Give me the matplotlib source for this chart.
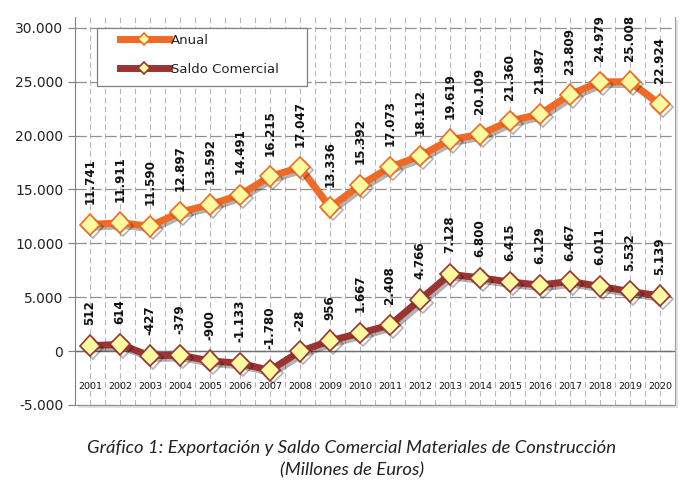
import numpy as np
import matplotlib
matplotlib.use("Agg")
import matplotlib.pyplot as plt
import matplotlib.patheffects as pe
from matplotlib.patches import Rectangle
from matplotlib.ticker import FuncFormatter

years = [str(y) for y in range(2001, 2021)]
anual = [11741, 11911, 11590, 12897, 13592, 14491, 16215, 17047, 13336, 15392,
         17073, 18112, 19619, 20109, 21360, 21987, 23809, 24979, 25008, 22924]
saldo = [512, 614, -427, -379, -900, -1133, -1780, -28, 956, 1667,
         2408, 4766, 7128, 6800, 6415, 6129, 6467, 6011, 5532, 5139]

c_anual = "#F06A25"
c_saldo = "#9B3333"
c_fill = "#FFFBA0"


def fmt(v):
    s = f"{abs(v):,}".replace(",", ".")
    return ("-" if v < 0 else "") + s


fig = plt.figure(figsize=(6.9, 4.87), dpi=100)
ax = fig.add_axes([0.1087, 0.1684, 0.8693, 0.7966])

# soft shadow of the plot area
fig.patches.append(Rectangle((0.1087 + 0.004, 0.1684 - 0.007), 0.8693, 0.7966,
                             transform=fig.transFigure, facecolor="#e2e2e2",
                             edgecolor="none", zorder=-1))
ax.set_facecolor("white")

x = np.arange(1, len(years) + 1)
shadow = [pe.SimpleLineShadow(offset=(2, -2), shadow_color="black", alpha=0.3), pe.Normal()]

ax.plot(x, anual, color=c_anual, lw=5, marker="D", ms=10.5, mfc=c_fill,
        mec=c_anual, mew=1.2, label="Anual", zorder=4, path_effects=shadow)
ax.plot(x, saldo, color=c_saldo, lw=5, marker="D", ms=10.5, mfc=c_fill,
        mec=c_saldo, mew=1.2, label="Saldo Comercial", zorder=4, path_effects=shadow)

for xi, v in zip(x, anual):
    ax.annotate(fmt(v), (xi, v), xytext=(0, 15), textcoords="offset points",
                rotation=90, ha="center", va="bottom", fontsize=8.6,
                fontweight="bold", family="DejaVu Sans", color="#111111")
for xi, v in zip(x, saldo):
    ax.annotate(fmt(v), (xi, v), xytext=(0, 15), textcoords="offset points",
                rotation=90, ha="center", va="bottom", fontsize=8.6,
                fontweight="bold", family="DejaVu Sans", color="#111111")

for xi, yr in zip(x, years):
    ax.text(xi, -3300, yr, ha="center", va="center", fontsize=6.8, color="#111111")

ax.set_xlim(0.5, len(years) + 0.5)
ax.set_ylim(-5000, 31000)
ax.set_yticks(range(-5000, 30001, 5000))
ax.yaxis.set_major_formatter(FuncFormatter(lambda v, p: fmt(int(v))))
ax.tick_params(axis="y", labelsize=10, length=5, color="#808080", labelcolor="#222222")
ax.set_xticks(x)
ax.set_xticks(x + 0.5, minor=True)
ax.tick_params(axis="x", which="both", length=0, labelbottom=False)

ax.grid(axis="y", color="#909090", lw=0.9, ls=(0, (9, 3)))
ax.grid(axis="x", which="both", color="#b8b8b8", lw=0.8, ls=(0, (5, 3)))
ax.axhline(0, color="#707070", lw=1, zorder=1)
ax.set_axisbelow(True)

ax.spines["top"].set_visible(False)
ax.spines["left"].set_color("#808080")
ax.spines["right"].set_color("#a0a0a0")
ax.spines["bottom"].set_color("#909090")

# legend box drawn by hand for the wide side padding
ax.add_patch(Rectangle((0.0367, 0.822), 0.35, 0.1495, transform=ax.transAxes,
                       facecolor="white", edgecolor="#808080", lw=0.9, zorder=5))
leg = ax.legend(loc="upper left", bbox_to_anchor=(0.075, 0.957), fontsize=9.5,
                frameon=False, labelspacing=1.2, handlelength=3.7,
                handletextpad=0.15, borderpad=0, borderaxespad=0)
leg.set_zorder(6)
for h in leg.legend_handles:
    h.set_markersize(6.5)
    h.set_linewidth(5)
    h.set_path_effects([])
for t in leg.get_texts():
    t.set_color("#222222")
    t.set_family("DejaVu Sans")

fig.text(0.51, 0.08, "Gráfico 1: Exportación y Saldo Comercial Materiales de Construcción",
         ha="center", va="center", fontsize=13.3, style="italic", family="Lato", color="#222222")
fig.text(0.51, 0.035, "(Millones de Euros)", ha="center", va="center",
         fontsize=13.3, style="italic", family="Lato", color="#222222")

fig.savefig("out.png", dpi=100)
